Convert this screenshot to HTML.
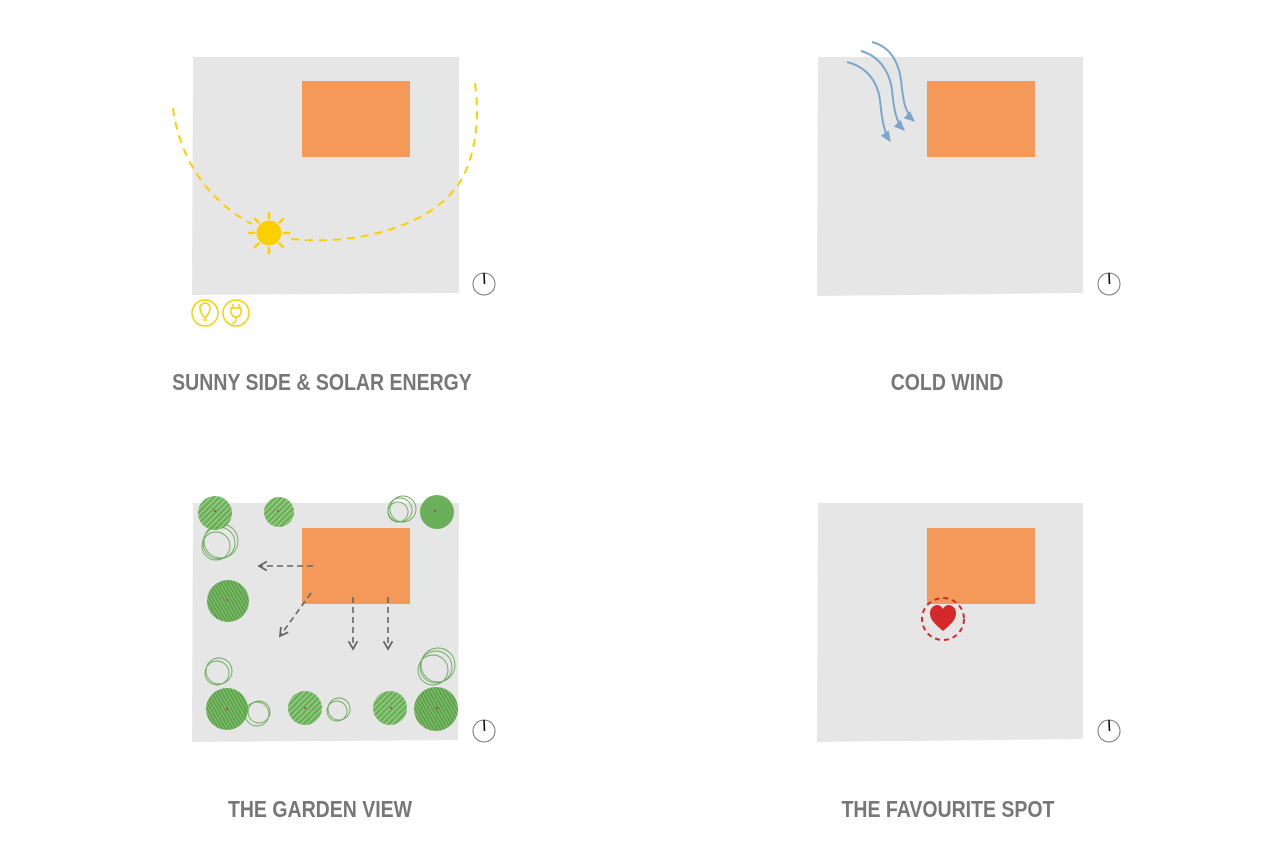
<!DOCTYPE html>
<html><head><meta charset="utf-8"><style>
html,body{margin:0;padding:0;background:#fff;width:1280px;height:850px;overflow:hidden}
svg{display:block}
</style></head><body>
<svg width="1280" height="850" viewBox="0 0 1280 850" xmlns="http://www.w3.org/2000/svg">
<defs>
<pattern id="h" width="4" height="4" patternUnits="userSpaceOnUse" patternTransform="rotate(45)">
<rect width="4" height="4" fill="#5ea84a"/><rect width="1.5" height="4" fill="#8ccb78"/>
</pattern>
<pattern id="h2" width="3" height="3" patternUnits="userSpaceOnUse" patternTransform="rotate(-30)">
<rect width="3" height="3" fill="#4f9a3c"/><rect width="1" height="3" fill="#7cc067"/>
</pattern>
<marker id="ah" viewBox="0 0 10 10" refX="8" refY="5" markerWidth="7" markerHeight="7" orient="auto-start-reverse"><path d="M1,1 L8,5 L1,9" fill="none" stroke="#666" stroke-width="1.6"/></marker>
<marker id="wa" viewBox="0 0 10 10" refX="8" refY="5" markerWidth="6" markerHeight="6" orient="auto"><path d="M0,1 L9,5 L0,9 Z" fill="#7aa6cf"/></marker>
</defs>

<polygon points="193,57 459,57 459,293 192,295" fill="#e6e6e6"/>
<rect x="302" y="81" width="108" height="76" fill="#f5995a"/>
<polygon points="818,57 1083,57 1083,293 817,296" fill="#e6e6e6"/>
<rect x="927" y="81" width="108" height="76" fill="#f5995a"/>
<polygon points="193,503 459,503 458,740 192,742" fill="#e6e6e6"/>
<rect x="302" y="528" width="108" height="76" fill="#f5995a"/>
<polygon points="818,503 1083,503 1083,739 817,742" fill="#e6e6e6"/>
<rect x="927" y="528" width="108" height="76" fill="#f5995a"/>

<g fill="none" stroke="#777" stroke-width="1">
<circle cx="484" cy="284" r="11"/><circle cx="1109" cy="284" r="11"/>
<circle cx="484" cy="731" r="11"/><circle cx="1109" cy="731" r="11"/>
</g>
<g stroke="#111" stroke-width="1.6">
<line x1="484" y1="273" x2="484.5" y2="284"/><line x1="1109" y1="273" x2="1109.5" y2="284"/>
<line x1="484" y1="720" x2="484.5" y2="731"/><line x1="1109" y1="720" x2="1109.5" y2="731"/>
</g>

<g fill="none" stroke="#fcd000" stroke-width="2" stroke-dasharray="8,6">
<path d="M173,108 C180,165 215,205 252,224"/>
<path d="M291,239 C360,246 430,225 458,185 C478,155 480,110 474,78"/>
</g>
<circle cx="269" cy="233" r="12.5" fill="#fcd000"/>
<g stroke="#fcd000" stroke-width="2.5" stroke-linecap="round">
<line x1="269" y1="213" x2="269" y2="218"/><line x1="269" y1="248" x2="269" y2="253"/>
<line x1="249" y1="233" x2="254" y2="233"/><line x1="284" y1="233" x2="289" y2="233"/>
<line x1="255" y1="219" x2="258.5" y2="222.5"/><line x1="279.5" y1="243.5" x2="283" y2="247"/>
<line x1="283" y1="219" x2="279.5" y2="222.5"/><line x1="258.5" y1="243.5" x2="255" y2="247"/>
</g>
<g fill="none" stroke="#fcd000" stroke-width="1.5">
<circle cx="205" cy="313" r="13"/><circle cx="236" cy="313" r="13"/>
<path d="M205,318 C201,314 200,311 200,308 A5,5 0 1 1 210,308 C210,311 209,314 205,318 Z"/>
<line x1="203" y1="320" x2="207" y2="320"/>
<path d="M233,304 v4 M239,304 v4 M231,308 h10 v4 a5,5 0 0 1 -10,0 Z M236,317 v3 c0,3 -4,3 -4,4"/>
</g>

<g fill="none" stroke="#7aa6cf" stroke-width="2" marker-end="url(#wa)">
<path d="M847,62 C870,68 878,85 880,100 C882,120 884,132 890,141"/>
<path d="M861,51 C882,57 890,75 892,90 C894,110 896,122 904,130"/>
<path d="M872,42 C892,47 899,65 901,80 C903,100 905,113 914,121"/>
</g>

<g fill="none" stroke="#6aaa5c" stroke-width="0.9">
<circle cx="219" cy="543" r="16"/><circle cx="216" cy="546" r="14"/><circle cx="221" cy="541" r="17"/>
<circle cx="400" cy="510" r="12"/><circle cx="398" cy="512" r="10"/><circle cx="403" cy="509" r="13"/>
<circle cx="217" cy="673" r="12"/><circle cx="219" cy="671" r="13"/>
<circle cx="259" cy="712" r="11"/><circle cx="257" cy="714" r="12"/>
<circle cx="337" cy="711" r="10"/><circle cx="339" cy="709" r="11"/>
<circle cx="436" cy="667" r="16"/><circle cx="433" cy="670" r="15"/><circle cx="438" cy="665" r="17"/>
</g>
<g opacity="0.9">
<circle cx="215" cy="513" r="17" fill="url(#h)"/>
<circle cx="279" cy="512" r="15" fill="url(#h)"/>
<circle cx="437" cy="512" r="17" fill="#5ea84a"/>
<circle cx="228" cy="601" r="21" fill="url(#h2)"/>
<circle cx="227" cy="709" r="21" fill="url(#h2)"/>
<circle cx="305" cy="708" r="17" fill="url(#h)"/>
<circle cx="390" cy="708" r="17" fill="url(#h)"/>
<circle cx="436" cy="709" r="22" fill="url(#h2)"/>
</g>
<g fill="#c03060">
<circle cx="215" cy="511" r="1"/><circle cx="278" cy="511" r="1"/><circle cx="435" cy="511" r="1"/>
<circle cx="227" cy="600" r="1"/><circle cx="227" cy="709" r="1"/><circle cx="305" cy="708" r="1"/>
<circle cx="391" cy="708" r="1"/><circle cx="437" cy="708" r="1"/>
</g>

<g fill="none" stroke="#666" stroke-width="1.6" stroke-dasharray="6,4" marker-end="url(#ah)">
<line x1="313" y1="566" x2="259" y2="566"/>
<line x1="311" y1="593" x2="280" y2="636"/>
<line x1="353" y1="597" x2="353" y2="649"/>
<line x1="388" y1="597" x2="388" y2="649"/>
</g>

<circle cx="943" cy="619" r="21" fill="none" stroke="#d62828" stroke-width="2" stroke-dasharray="5,4"/>
<path d="M943,631 C935,624 930,620 930,613 C930,608 934,605 937.5,605 C940,605 942,607 943,609 C944,607 946,605 948.5,605 C952,605 956,608 956,613 C956,620 951,624 943,631 Z" fill="#d62828"/>

<g font-family="Liberation Sans, sans-serif" font-weight="bold" font-size="23.5" fill="#777" text-anchor="middle">
<text x="322" y="390" transform="translate(322,0) scale(0.83,1) translate(-322,0)">SUNNY SIDE &amp; SOLAR ENERGY</text>
<text x="947" y="390" transform="translate(947,0) scale(0.83,1) translate(-947,0)">COLD WIND</text>
<text x="320" y="817" transform="translate(320,0) scale(0.83,1) translate(-320,0)">THE GARDEN VIEW</text>
<text x="948" y="817" transform="translate(948,0) scale(0.83,1) translate(-948,0)">THE FAVOURITE SPOT</text>
</g>
</svg>
</body></html>
